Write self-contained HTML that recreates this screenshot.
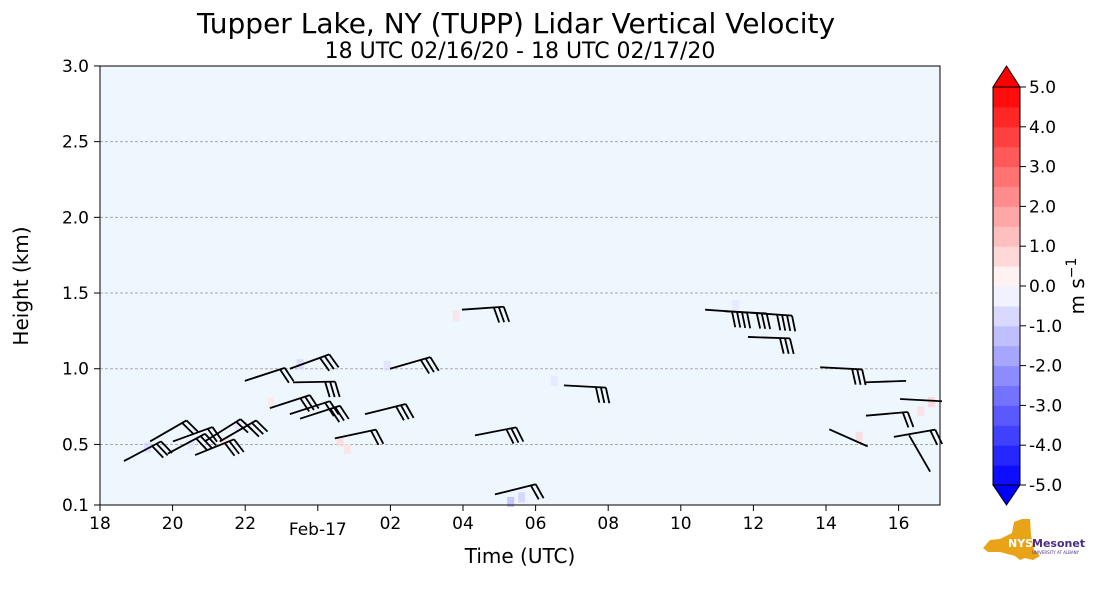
<!DOCTYPE html>
<html><head><meta charset="utf-8"><style>
body{margin:0;background:#fff;font-family:"DejaVu Sans","Liberation Sans",sans-serif}
svg text{font-family:"DejaVu Sans","Liberation Sans",sans-serif}
</style></head><body>
<svg id="chart" width="1101" height="600" xmlns="http://www.w3.org/2000/svg">
<text x="516" y="33" font-size="28" text-anchor="middle">Tupper Lake, NY (TUPP) Lidar Vertical Velocity</text>
<text x="520" y="58" font-size="22" text-anchor="middle">18 UTC 02/16/20 - 18 UTC 02/17/20</text>
<rect x="100" y="66" width="840" height="439" fill="#eef6fe"/>
<g id="grid"></g><g id="patches"></g><g id="barbs"></g>
<rect x="100" y="66" width="840" height="439" fill="none" stroke="#000" stroke-width="1"/>
<g id="xaxis"></g><g id="yaxis"></g>
<text x="520" y="563" font-size="20" text-anchor="middle">Time (UTC)</text>
<text transform="translate(28,286) rotate(-90)" font-size="20" text-anchor="middle">Height (km)</text>
<g id="colorbar"></g>
<text transform="translate(1084,286) rotate(-90)" font-size="20" text-anchor="middle">m s<tspan dy="-8" font-size="14">−1</tspan></text>
<g>
<polygon points="983,548 990,540 1000,539 1012,533 1014,522 1022,519 1030,519 1031,535 1034,550 1040,556 1033,560 1025,558 1020,560 1015,556 1000,552 988,552" fill="#e8a317"/>
<text x="1008" y="547" font-size="11" font-weight="bold" fill="#fff">NYS</text>
<text x="1032" y="547" font-size="11" font-weight="bold" fill="#4b2e83">Mesonet</text>
<text x="1032" y="554" font-size="4" fill="#4b2e83">UNIVERSITY AT ALBANY</text>
</g>
</svg>
<script>
const NS="http://www.w3.org/2000/svg";
const yTicks=[0.1,0.5,1.0,1.5,2.0,2.5,3.0];
const yLabels=["0.1","0.5","1.0","1.5","2.0","2.5","3.0"];
const xTicks=[0,2,4,6,8,10,12,14,16,18,20,22];
const xLabels=["18","20","22","Feb-17","02","04","06","08","10","12","14","16"];
const cbTicks=[5,4,3,2,1,0,-1,-2,-3,-4,-5];
const cbLabels=["5.0","4.0","3.0","2.0","1.0","0.0","-1.0","-2.0","-3.0","-4.0","-5.0"];
// wind barbs: anchor hour (since 18 UTC), height km, staff angle deg (above horizontal), feather count
const barbHour=[0.66,1.38,2.01,1.87,2.62,2.89,3.3,3.99,4.68,5.23,5.32,5.23,5.51,6.47,7.3,7.99,9.97,10.33,10.88,12.78,16.67,17.21,17.91,17.85,19.84,20.09,21.87,21.1,22.04,22.29,21.05];
const barbHeight=[0.39,0.52,0.52,0.44,0.43,0.52,0.52,0.92,0.74,1.0,0.91,0.70,0.67,0.54,0.70,1.0,1.39,0.56,0.17,0.89,1.39,1.38,1.37,1.21,1.01,0.60,0.55,0.69,0.80,0.56,0.91];
const barbAngle=[28,30,20,28,22,32,30,18,18,20,1,18,18,12,14,16,4,11,14,-3,-4,-3,-4,-2,-3,-24,10,5,-3,-60,2];
const barbCount=[3,2,2,3,3,2,3,2,3,3,3,2,3,2,3,3,3,3,2,3,4,3,4,3,3,0,2,2,0,0,0];
// small velocity patches: hour, height, velocity (m/s)
const patchHour=[1.3,2.5,3.4,5.5,6.6,6.8,7.9,9.8,11.3,11.6,12.5,17.5,20.9,22.6,22.9,4.7,3.8];
const patchHeight=[0.48,0.50,0.52,1.03,0.52,0.47,1.02,1.35,0.12,0.15,0.92,1.42,0.55,0.72,0.78,0.78,0.62];
const patchVel=[-0.8,-0.5,0.6,-0.9,0.8,0.6,-0.7,0.6,-1.5,-1.0,-0.5,-0.5,0.8,0.7,1.0,0.5,-0.5];
const X=h=>100+h*36.3;
const Y=v=>505-(v-0.1)*151.4;
const CY=v=>286-v*39.8;
function el(tag,attrs,parent,txt){const e=document.createElementNS(NS,tag);for(const k in attrs)e.setAttribute(k,attrs[k]);if(txt!==undefined)e.textContent=txt;document.getElementById(parent).appendChild(e);return e;}
function bwr(v){const t=Math.max(-1,Math.min(1,v/5));let r,g,b;if(t<0){r=g=Math.round(255*(1+t));b=255;}else{r=255;g=b=Math.round(255*(1-t));}return `rgb(${r},${g},${b})`;}
yTicks.forEach((v,i)=>{
 if(v>0.1&&v<3){const g=el('line',{x1:100,x2:940,y1:Y(v),y2:Y(v),stroke:'#aaa','stroke-dasharray':'3,2','stroke-width':1},'grid');
 }
 const t=el('line',{x1:94,x2:100,y1:Y(v),y2:Y(v),stroke:'#000'},'yaxis');
 
 const l=el('text',{x:89,y:Y(v)+6,'font-size':17,'text-anchor':'end'},'yaxis',yLabels[i]);
 
});
xTicks.forEach((h,i)=>{
 const t=el('line',{x1:X(h),x2:X(h),y1:505,y2:511,stroke:'#000'},'xaxis');
 
 const l=el('text',{x:X(h),y:i===3?535:529,'font-size':17,'text-anchor':'middle'},'xaxis',xLabels[i]);
 
});
patchHour.forEach((h,i)=>{
 const p=el('rect',{x:X(h)-3,y:Y(patchHeight[i])-5,width:7,height:10,fill:bwr(patchVel[i]),opacity:0.7},'patches');
 
});
barbHour.forEach((h,i)=>{
 const L=42,a=barbAngle[i]*Math.PI/180;
 const x0=X(h),y0=Y(barbHeight[i]);
 const ux=Math.cos(a),uy=-Math.sin(a);
 const x1=x0+L*ux,y1=y0+L*uy;
 const g=el('g',{},'barbs');
 
 el('line',{x1:x0,y1:y0,x2:x1,y2:y1,stroke:'#000','stroke-width':1.8},'barbs');
 for(let k=0;k<barbCount[i];k++){
  const bx=x1-k*5*ux,by=y1-k*5*uy;
  const fa=a-1.3;
  el('line',{x1:bx,y1:by,x2:bx+16*Math.cos(fa),y2:by-16*Math.sin(fa),stroke:'#000','stroke-width':1.8},'barbs');
 }
});
// colorbar
for(let v=-5;v<5;v+=0.5){
 const r=el('rect',{x:993,y:CY(v+0.5),width:27,height:CY(v)-CY(v+0.5)+0.5,fill:bwr(v+0.25)},'colorbar');
 
}
const tu=el('polygon',{points:`993,${CY(5)} 1020,${CY(5)} 1006.5,66`,fill:'rgb(255,0,0)',stroke:'#000'},'colorbar');

const td=el('polygon',{points:`993,${CY(-5)} 1020,${CY(-5)} 1006.5,505`,fill:'rgb(0,0,255)',stroke:'#000'},'colorbar');

const fr=el('polyline',{points:`993,${CY(5)} 993,${CY(-5)} 1020,${CY(-5)} 1020,${CY(5)} 993,${CY(5)}`,fill:'none',stroke:'#000'},'colorbar');

cbTicks.forEach((v,i)=>{
 el('line',{x1:1020,x2:1026,y1:CY(v),y2:CY(v),stroke:'#000'},'colorbar');
 const l=el('text',{x:1029,y:CY(v)+6,'font-size':17},'colorbar',cbLabels[i]);
 
});
</script>
</body></html>
